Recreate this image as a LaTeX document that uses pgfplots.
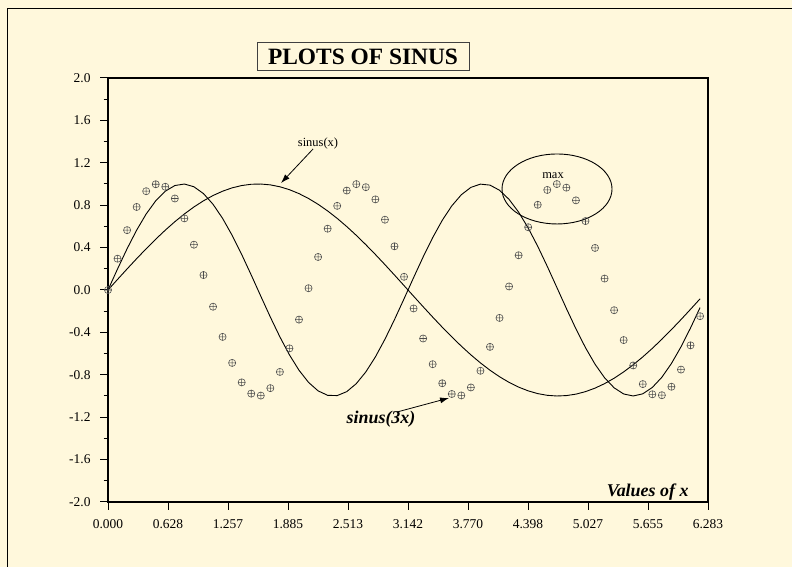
\documentclass[border=0pt]{standalone}
\usepackage{fontspec}
\setmainfont{Liberation Serif}
\usepackage{pgfplots}
\usepackage{pgfplotstable}
\pgfplotsset{compat=1.18}
\usetikzlibrary{arrows.meta}
\definecolor{bgcol}{RGB}{255,248,220}

% x, sin(x), sin(2x), sin(3x)
\pgfplotstableread{
x   s1      s2      s3
0.0  0.0000  0.0000  0.0000
0.1  0.0998  0.1987  0.2955
0.2  0.1987  0.3894  0.5646
0.3  0.2955  0.5646  0.7833
0.4  0.3894  0.7174  0.9320
0.5  0.4794  0.8415  0.9975
0.6  0.5646  0.9320  0.9738
0.7  0.6442  0.9854  0.8632
0.8  0.7174  0.9996  0.6755
0.9  0.7833  0.9738  0.4274
1.0  0.8415  0.9093  0.1411
1.1  0.8912  0.8085 -0.1577
1.2  0.9320  0.6755 -0.4425
1.3  0.9636  0.5155 -0.6878
1.4  0.9854  0.3350 -0.8716
1.5  0.9975  0.1411 -0.9775
1.6  0.9996 -0.0584 -0.9962
1.7  0.9917 -0.2555 -0.9258
1.8  0.9738 -0.4425 -0.7728
1.9  0.9463 -0.6119 -0.5507
2.0  0.9093 -0.7568 -0.2794
2.1  0.8632 -0.8716  0.0168
2.2  0.8085 -0.9516  0.3115
2.3  0.7457 -0.9937  0.5785
2.4  0.6755 -0.9962  0.7937
2.5  0.5985 -0.9589  0.9381
2.6  0.5155 -0.8835  0.9987
2.7  0.4274 -0.7728  0.9700
2.8  0.3350 -0.6313  0.8547
2.9  0.2392 -0.4646  0.6631
3.0  0.1411 -0.2794  0.4121
3.1  0.0416 -0.0831  0.1245
3.2 -0.0584  0.1165 -0.1743
3.3 -0.1577  0.3115 -0.4576
3.4 -0.2555  0.4941 -0.7000
3.5 -0.3508  0.6570 -0.8798
3.6 -0.4425  0.7937 -0.9810
3.7 -0.5298  0.8988 -0.9947
3.8 -0.6119  0.9681 -0.9194
3.9 -0.6878  0.9987 -0.7621
4.0 -0.7568  0.9894 -0.5366
4.1 -0.8183  0.9409 -0.2633
4.2 -0.8716  0.8547  0.0336
4.3 -0.9162  0.7345  0.3276
4.4 -0.9516  0.5850  0.5920
4.5 -0.9775  0.4121  0.8038
4.6 -0.9937  0.2229  0.9437
4.7 -0.9999  0.0248  0.9993
4.8 -0.9962 -0.1743  0.9657
4.9 -0.9825 -0.3665  0.8457
5.0 -0.9589 -0.5440  0.6503
5.1 -0.9258 -0.7000  0.3968
5.2 -0.8835 -0.8280  0.1078
5.3 -0.8323 -0.9229 -0.1908
5.4 -0.7728 -0.9810 -0.4724
5.5 -0.7055 -1.0000 -0.7118
5.6 -0.6313 -0.9794 -0.8876
5.7 -0.5507 -0.9194 -0.9840
5.8 -0.4646 -0.8230 -0.9927
5.9 -0.3739 -0.6936 -0.9126
6.0 -0.2794 -0.5366 -0.7510
6.1 -0.1822 -0.3583 -0.5224
6.2 -0.0831 -0.1657 -0.2470
}\sinustable

\begin{document}
\begin{tikzpicture}[x=1bp,y=1bp]
\fill[bgcol] (0,0) rectangle (792,567);
\useasboundingbox (0,0) rectangle (792,567);
\draw[line width=1bp] (7,0) -- (7,558) -- (795,558);
% title box
\draw[line width=0.8bp, black!75] (257,497) rectangle (469,525);
\node[font=\fontsize{23.5}{24}\selectfont\bfseries] at (363,510.5) {PLOTS OF SINUS};

\begin{axis}[
    at={(108bp,65bp)}, anchor=south west,
    scale only axis, width=600bp, height=424bp,
    xmin=0, xmax=6.2832, ymin=-2, ymax=2,
    axis line style={line width=1.2bp},
    tick align=outside,
    xtick pos=bottom, ytick pos=left,
    xtick={0,0.62832,1.25664,1.88496,2.51327,3.14159,3.76991,4.39823,5.02655,5.65487,6.28319},
    xticklabels={0.000,0.628,1.257,1.885,2.513,3.142,3.770,4.398,5.027,5.655,6.283},
    ytick={-2,-1.6,-1.2,-0.8,-0.4,0,0.4,0.8,1.2,1.6,2},
    yticklabels={-2.0,-1.6,-1.2,-0.8,-0.4,0.0,0.4,0.8,1.2,1.6,2.0},
    minor tick num=1,
    major tick length=8bp, minor tick length=4.5bp,
    every tick/.style={black, line width=1bp},
    tick label style={font=\fontsize{13.5}{14}\selectfont},
    xticklabel shift=6bp, yticklabel shift=6bp,
    /pgf/number format/assume math mode=true,
]
\addplot[black, line width=0.9bp, no markers] table[x=x, y=s1] {\sinustable};
\addplot[black, line width=0.9bp, no markers] table[x=x, y=s2] {\sinustable};
\addplot[only marks, mark=oplus, mark size=3.6bp, black!70, mark options={line width=0.55bp}] table[x=x, y=s3] {\sinustable};

\node[font=\fontsize{12.5}{13}\selectfont, anchor=base] at (axis cs:2.199,1.358) {sinus(x)};
\draw[-{Latex[length=9bp,width=6bp]}, line width=0.8bp] (axis cs:2.147,1.330) -- (axis cs:1.812,1.009);

\node[font=\fontsize{18}{18}\selectfont\bfseries\itshape, anchor=base] at (axis cs:2.859,-1.264) {sinus(3x)};
\draw[-{Latex[length=9bp,width=6bp]}, line width=0.8bp] (axis cs:3.027,-1.151) -- (axis cs:3.571,-1.019);

\node[font=\fontsize{12.5}{13}\selectfont] at (axis cs:4.66,1.08) {max};
\draw[line width=0.9bp] (axis cs:4.702,0.953) ellipse [x radius=55bp, y radius=35bp];
\end{axis}
\node[font=\fontsize{18}{18}\selectfont\bfseries\itshape, anchor=base east] at (692,70) {Values of \textit{x}};
\end{tikzpicture}
\end{document}
